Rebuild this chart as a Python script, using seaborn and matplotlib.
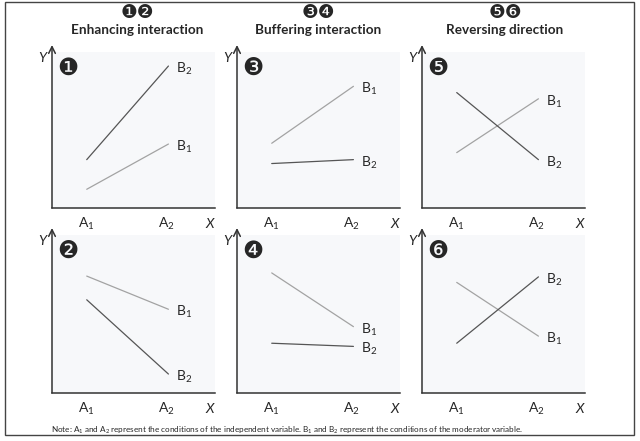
import matplotlib
matplotlib.use("Agg")
import matplotlib.pyplot as plt
import seaborn as sns
import pandas as pd
from matplotlib.patches import Rectangle

# ============================================================
# 数据（读图估计，y 轴 0-10 标度）
# ============================================================
PANELS = [1, 2, 3, 4, 5, 6]          # 面板编号，按列排布
X_LEVELS = ["A$_1$", "A$_2$"]
B1_AT_A1 = [1.2, 7.4, 4.15, 7.6, 3.55, 7.0]
B1_AT_A2 = [4.1, 5.3, 7.8, 4.2, 7.0, 3.6]
B2_AT_A1 = [3.1, 5.9, 2.85, 3.15, 7.4, 3.15]
B2_AT_A2 = [9.1, 1.2, 3.1, 2.95, 3.1, 7.35]
COL_TITLES = ["Enhancing interaction", "Buffering interaction",
              "Reversing direction"]
COL_BADGES = ["\u2776\u2777", "\u2778\u2779", "\u277a\u277b"]
PANEL_BADGES = ["\u2776", "\u2777", "\u2778", "\u2779", "\u277a", "\u277b"]
NOTE = ("Note: A$_1$ and A$_2$ represent the conditions of the independent "
        "variable. B$_1$ and B$_2$ represent the conditions of the moderator "
        "variable.")

rows = []
for i, p in enumerate(PANELS):
    rows += [
        dict(panel=p, x=1, y=B1_AT_A1[i], mod="B1"),
        dict(panel=p, x=2, y=B1_AT_A2[i], mod="B1"),
        dict(panel=p, x=1, y=B2_AT_A1[i], mod="B2"),
        dict(panel=p, x=2, y=B2_AT_A2[i], mod="B2"),
    ]
df = pd.DataFrame(rows)

# ============================================================
# 样式
# ============================================================
sns.set_theme(style="white")
plt.rcParams["font.family"] = ["Lato", "DejaVu Sans"]
plt.rcParams["mathtext.default"] = "regular"

LINE_COLORS = {"B1": "#a3a3a3", "B2": "#555555"}
BG = "#f7f8fa"
AXIS_C = "#333333"

W, H = 640, 441
fig = plt.figure(figsize=(6.4, 4.41), dpi=100)

col_left = [52, 237, 422]
col_w = 163
row_box = [(52, 208), (235, 393)]   # (top, bottom) 像素

for i, p in enumerate(PANELS):
    col, row = i // 2, i % 2
    top, bot = row_box[row]
    ax = fig.add_axes([col_left[col] / W, 1 - bot / H,
                       col_w / W, (bot - top) / H])
    ax.set_facecolor(BG)
    sub = df[df["panel"] == p]
    sns.lineplot(data=sub, x="x", y="y", hue="mod", palette=LINE_COLORS,
                 ax=ax, legend=False, linewidth=0.9)
    ax.set_xlim(0.575, 2.57)
    ax.set_ylim(0, 10)
    ax.set_xticks([1, 1.97])
    ax.set_xticklabels(X_LEVELS, fontsize=10)
    ax.set_yticks([])
    ax.tick_params(axis="x", length=0, pad=6)
    ax.set_xlabel("")
    ax.set_ylabel("")
    for s in ["top", "right", "left"]:
        ax.spines[s].set_visible(False)
    ax.spines["bottom"].set_color(AXIS_C)
    ax.spines["bottom"].set_linewidth(1.1)

    # y 轴箭头
    ext = 1 + 7 / (bot - top)
    ax.annotate("", xy=(0, ext), xytext=(0, 0), xycoords="axes fraction",
                arrowprops=dict(arrowstyle="->", color=AXIS_C, lw=1.1,
                                shrinkA=0, shrinkB=0), annotation_clip=False)
    ax.text(-0.06, 0.96, "Y", transform=ax.transAxes, fontsize=10,
            style="italic", ha="center", va="center")
    ax.text(0.97, -0.1, "X", transform=ax.transAxes, fontsize=10,
            style="italic", ha="center", va="center")

    # 线端标签
    for mod, vals in [("B1", B1_AT_A2[i]), ("B2", B2_AT_A2[i])]:
        ax.annotate(f"B$_{mod[1]}$", xy=(2, vals), xytext=(8, -3),
                    textcoords="offset pixels", fontsize=10,
                    ha="left", va="center")

    ax.text(0.1, 0.9, PANEL_BADGES[i], transform=ax.transAxes,
            fontsize=17, ha="center", va="center",
            family=["DejaVu Sans"])

# 列标题
title_x = [137.5, 318, 505]
for cx, t, b in zip(title_x, COL_TITLES, COL_BADGES):
    fig.text(cx / W, 1 - 13 / H, b, ha="center", va="center", fontsize=13.5,
             family=["DejaVu Sans"])
    fig.text(cx / W, 1 - 30 / H, t, ha="center", va="center", fontsize=9.7,
             fontweight="bold")

fig.text(51 / W, 1 - 430 / H, NOTE, ha="left", va="center", fontsize=5.9)

# 外框
fig.patches.append(Rectangle((5 / W, 1 - 435 / H), 629 / W, 433 / H,
                             transform=fig.transFigure, fill=False,
                             edgecolor="#444444", linewidth=1.0))

fig.savefig("out.png", dpi=100)
